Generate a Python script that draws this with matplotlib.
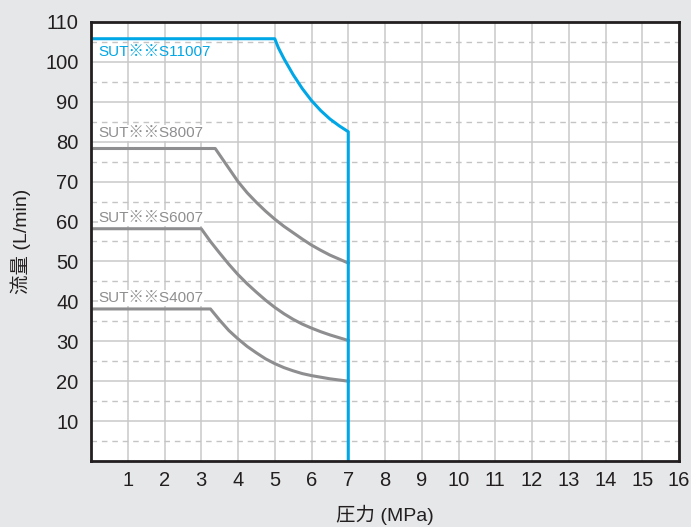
import matplotlib
matplotlib.use("Agg")
import matplotlib.pyplot as plt

plt.rcParams['font.family'] = ['Liberation Sans', 'Noto Sans CJK JP', 'DejaVu Sans']

# flow curves: pressure (MPa) -> flow (L/min)
s11007_x = [0, 5, 5.1, 5.25, 5.5, 5.75, 6, 6.25, 6.5, 6.75, 7, 7]
s11007_y = [105.8, 105.8, 103.5, 100.8, 96.8, 93.3, 90.3, 87.8, 85.7, 84.0, 82.5, 0]

s8007_x = [0, 3.38, 4, 4.25, 4.5, 4.75, 5, 5.25, 5.5, 5.75, 6, 6.25, 6.5, 6.75, 7]
s8007_y = [78.3, 78.3, 70, 67.2, 64.8, 62.6, 60.6, 58.8, 57.2, 55.6, 54.1, 52.8, 51.6, 50.6, 49.6]

s6007_x = [0, 3, 3.25, 3.5, 3.75, 4, 4.25, 4.5, 4.75, 5, 5.25, 5.5, 5.75, 6, 6.25, 6.5, 6.75, 7]
s6007_y = [58.2, 58.2, 55.0, 52.1, 49.3, 46.7, 44.4, 42.3, 40.3, 38.5, 36.9, 35.5, 34.3, 33.3, 32.4,
           31.6, 30.9, 30.2]

s4007_x = [0, 3.25, 3.5, 3.75, 4, 4.25, 4.5, 4.75, 5, 5.25, 5.5, 5.75, 6, 6.25, 6.5, 6.75, 7]
s4007_y = [38.1, 38.1, 35.3, 32.7, 30.6, 28.7, 27.1, 25.6, 24.4, 23.4, 22.6, 21.9, 21.4, 21.0, 20.6,
           20.3, 20.0]

labels = ["SUT※※S11007", "SUT※※S8007", "SUT※※S6007", "SUT※※S4007"]
label_y = [102.4, 82.2, 60.9, 40.8]

x_ticks = list(range(1, 17))
y_ticks = list(range(10, 111, 10))

blue = "#00a7e6"
gray = "#8e8e90"

fig = plt.figure(figsize=(6.91, 5.27), dpi=100, facecolor="#e6e7e8")
axe = fig.add_axes([0.1317, 0.1252, 0.851, 0.8331])
axe.set_facecolor("white")

# grid: solid at each 10, dashed in between
for v in x_ticks:
    axe.axvline(v, color="#c9c9c9", lw=1.1, zorder=1)
for v in y_ticks:
    axe.axhline(v, color="#c9c9c9", lw=1.1, zorder=1)
for v in range(5, 110, 10):
    axe.axhline(v, color="#c4c4c4", lw=1.0, ls=(0, (4, 3.5)), zorder=1)

axe.plot(s8007_x, s8007_y, color=gray, lw=2.2, zorder=3)
axe.plot(s6007_x, s6007_y, color=gray, lw=2.2, zorder=3)
axe.plot(s4007_x, s4007_y, color=gray, lw=2.2, zorder=3)
axe.plot(s11007_x, s11007_y, color=blue, lw=2.2, zorder=4)

for i, (txt, yv) in enumerate(zip(labels, label_y)):
    col = blue if i == 0 else gray
    bg = "none" if i == 0 else "white"
    axe.text(0.2, yv, txt, color=col, fontsize=11, va="center", ha="left", zorder=2,
             bbox=dict(boxstyle="square,pad=0.05", fc=bg, ec="none"))

axe.set_xlim(0, 16)
axe.set_ylim(0, 110)
axe.set_xticks(x_ticks)
axe.set_yticks(y_ticks)
axe.tick_params(length=0, labelsize=14.5, colors="#231f20")
axe.tick_params(axis="x", pad=7)
axe.tick_params(axis="y", pad=9)
for s in axe.spines.values():
    s.set_color("#231f20")
    s.set_linewidth(2.0)
    s.set_zorder(5)

axe.set_xlabel("圧力 (MPa)", fontsize=14, color="#231f20", labelpad=11)
axe.set_ylabel("流量 (L/min)", fontsize=14, color="#231f20", labelpad=10)

fig.savefig("out.png", dpi=100, facecolor=fig.get_facecolor())
